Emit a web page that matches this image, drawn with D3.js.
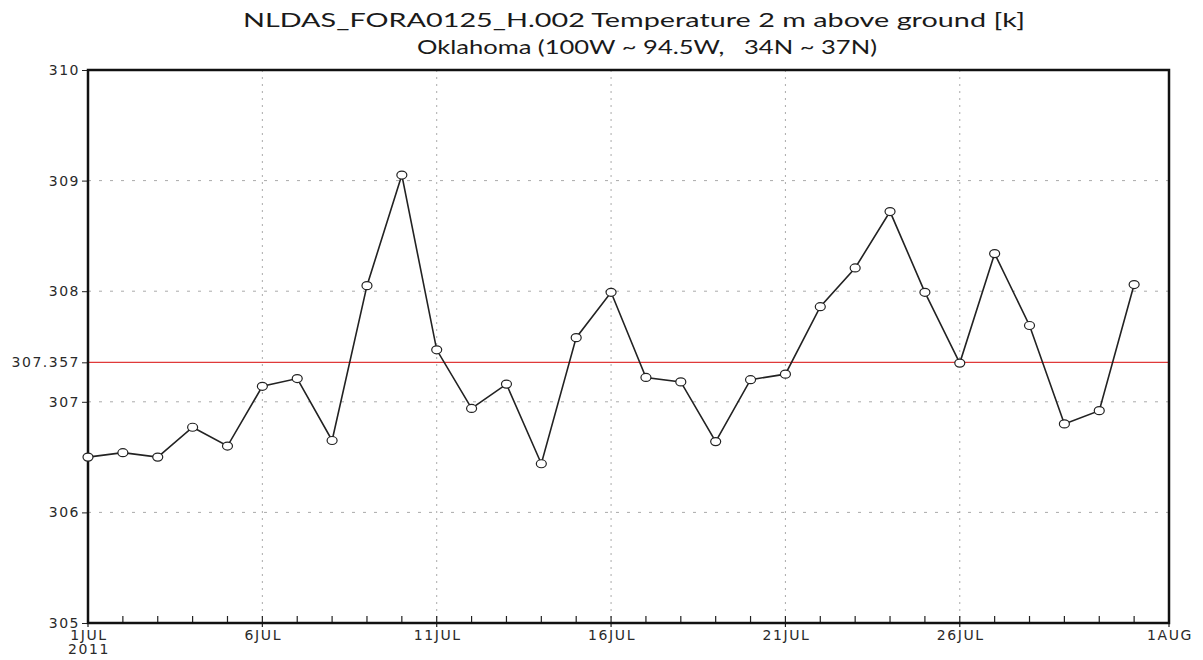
<!DOCTYPE html>
<html><head><meta charset="utf-8">
<script src="https://cdn.jsdelivr.net/npm/d3@7"></script>
<style>body{margin:0;background:#fff}svg{display:block}</style>
</head><body>
<svg id="c" width="1203" height="660"></svg>
<script>
const titleLines = ["NLDAS_FORA0125_H.002 Temperature 2 m above ground [k]", "Oklahoma (100W ~ 94.5W,   34N ~ 37N)"];
const days = d3.range(1, 32);
const values = [306.50, 306.54, 306.50, 306.77, 306.60, 307.14, 307.21, 306.65, 308.05, 309.05,
                307.47, 306.94, 307.16, 306.44, 307.58, 307.99, 307.22, 307.18, 306.64, 307.20,
                307.25, 307.86, 308.21, 308.72, 307.99, 307.35, 308.34, 307.69, 306.80, 306.92, 308.06];
const meanValue = 307.357;
const yTicks = [305, 306, 307, 308, 309, 310];
const xMajorDays = [1, 6, 11, 16, 21, 26, 32];
const xMajorLabels = ["1JUL", "6JUL", "11JUL", "16JUL", "21JUL", "26JUL", "1AUG"];
const yearLabel = "2011";

const svg = d3.select("#c");
const L = 88, R = 1169, T = 70, B = 623;
const x = d3.scaleLinear().domain([1, 32]).range([L, R]);
const y = d3.scaleLinear().domain([305, 310]).range([B, T]);

// title (stretched like the reference)
const titleLayout = [{x: 243, y: 27, w: 782}, {x: 417, y: 54, w: 460}];
svg.selectAll("text.title").data(titleLines).join("text")
  .attr("class", "title")
  .attr("x", (d, i) => titleLayout[i].x).attr("y", (d, i) => titleLayout[i].y)
  .attr("textLength", (d, i) => titleLayout[i].w).attr("lengthAdjust", "spacingAndGlyphs")
  .style("white-space", "pre")
  .attr("font-family", "Lato, 'Open Sans', sans-serif")
  .attr("font-size", 20).attr("fill", "#1a1a1a").text(d => d);

// grid
const grid = svg.append("g");
grid.selectAll("line.h").data(yTicks.filter(v => v > 305 && v < 310)).join("line")
  .attr("x1", L).attr("x2", R).attr("y1", d => y(d)).attr("y2", d => y(d))
  .attr("stroke", "#aaa").attr("stroke-width", 1).attr("stroke-dasharray", "3,8");
grid.selectAll("line.v").data(xMajorDays.slice(1, -1)).join("line")
  .attr("x1", d => x(d)).attr("x2", d => x(d)).attr("y1", T).attr("y2", B)
  .attr("stroke", "#aaa").attr("stroke-width", 1).attr("stroke-dasharray", "2,5");

// mean line
svg.append("line").attr("x1", L).attr("x2", R).attr("y1", y(meanValue)).attr("y2", y(meanValue))
  .attr("stroke", "#e03a3a").attr("stroke-width", 1.2);

const labelFont = "'DejaVu Sans', sans-serif";
// y axis
const yAxis = d3.axisLeft(y).tickValues([...yTicks, meanValue]).tickSize(6).tickPadding(2)
  .tickFormat(d => d === meanValue ? "307.357" : d3.format("d")(d));
const ya = svg.append("g").attr("transform", `translate(${L},0)`).call(yAxis);
ya.select(".domain").remove();
ya.selectAll("text").attr("font-family", labelFont)
  .attr("font-size", 14).attr("letter-spacing", "1.5px").attr("fill", "#2a2a2a");
ya.selectAll("line").attr("stroke", "#222");

// x axis minor ticks (inward)
const xa = svg.append("g");
xa.selectAll("line.minor").data(d3.range(1, 33)).join("line")
  .attr("x1", d => x(d)).attr("x2", d => x(d)).attr("y1", B).attr("y2", B - 7)
  .attr("stroke", "#222").attr("stroke-width", 1.2);
xa.selectAll("line.major").data(xMajorDays).join("line")
  .attr("x1", d => x(d)).attr("x2", d => x(d)).attr("y1", B).attr("y2", B + 4)
  .attr("stroke", "#222").attr("stroke-width", 1.2);
xa.selectAll("text.xl").data(xMajorDays).join("text")
  .attr("x", d => x(d) + 1).attr("y", B + 17).attr("text-anchor", "middle")
  .attr("font-family", labelFont).attr("font-size", 14).attr("letter-spacing", "1.6px")
  .attr("fill", "#2a2a2a").text((d, i) => xMajorLabels[i]);
xa.append("text").attr("x", x(1) + 1).attr("y", B + 31).attr("text-anchor", "middle")
  .attr("font-family", labelFont).attr("font-size", 14).attr("letter-spacing", "1.6px")
  .attr("fill", "#2a2a2a").text(yearLabel);

// frame
svg.append("rect").attr("x", L).attr("y", T).attr("width", R - L).attr("height", B - T)
  .attr("fill", "none").attr("stroke", "#111").attr("stroke-width", 2.5);

// series
const line = d3.line().x((d, i) => x(days[i])).y(d => y(d));
svg.append("path").datum(values).attr("d", line)
  .attr("fill", "none").attr("stroke", "#222").attr("stroke-width", 1.6);
svg.selectAll("ellipse.pt").data(values).join("ellipse")
  .attr("cx", (d, i) => x(days[i])).attr("cy", d => y(d)).attr("rx", 5).attr("ry", 4)
  .attr("fill", "#fff").attr("stroke", "#222").attr("stroke-width", 1.2);
</script>
</body></html>
